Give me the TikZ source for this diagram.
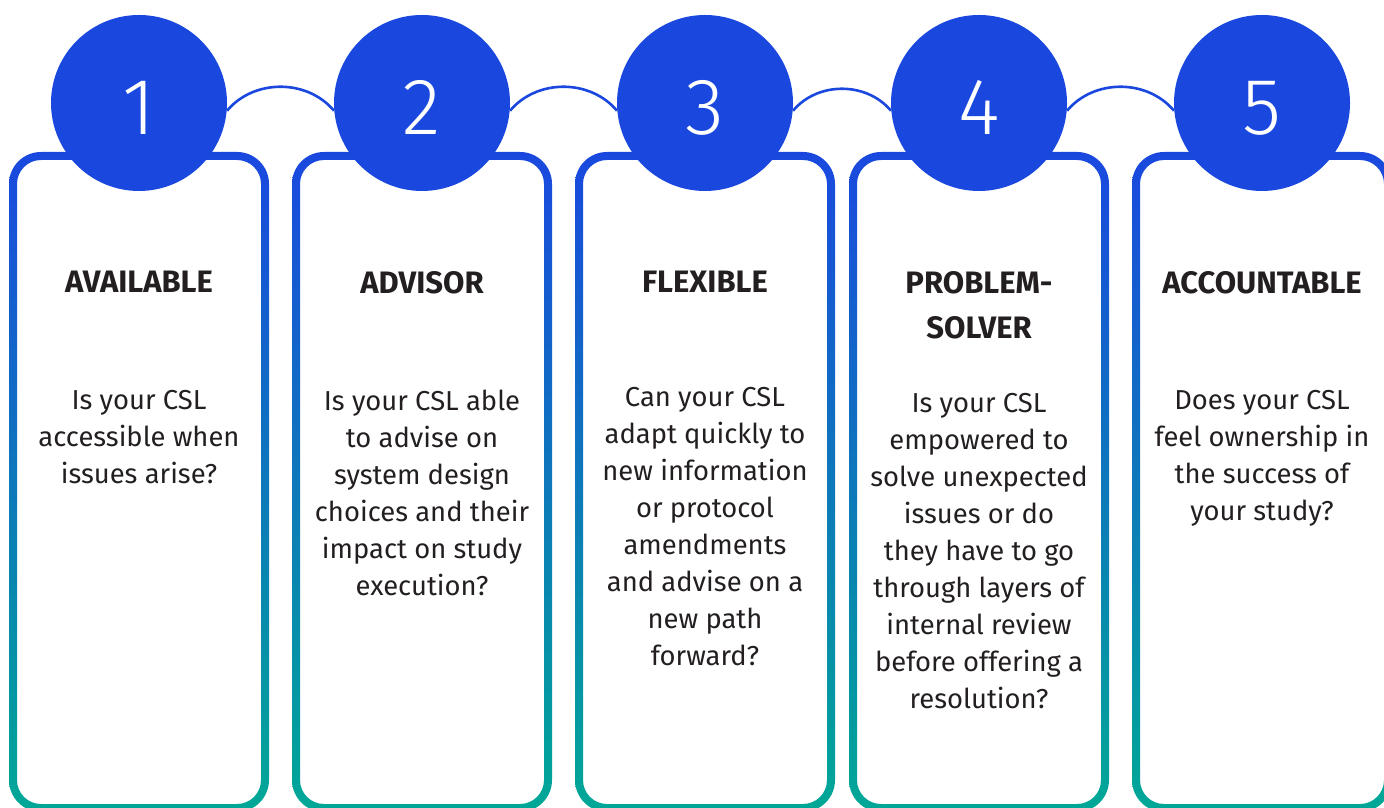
\documentclass[tikz,border=0pt]{standalone}
\usepackage{fontspec}
\setmainfont{Fira Sans}
\newfontfamily\numfont{Fira Sans Light}
\definecolor{cslblue}{HTML}{1A48DF}
\definecolor{cslteal}{HTML}{00A896}
\definecolor{csltext}{HTML}{231F20}

\begin{document}
\begin{tikzpicture}[x=0.5pt, y=0.5pt]
\tikzset{num/.style = {shape=circle, fill=cslblue, minimum size=88pt, inner sep=0pt, text=white, text height=31.6pt, text depth=0pt, font=\numfont\fontsize{40}{40}\selectfont}}
\tikzset{title/.style = {anchor=north, inner sep=0pt, align=center, text=csltext, font=\bfseries\fontsize{15.5}{22.5}\selectfont}}
\tikzset{question/.style = {anchor=north, inner sep=0pt, align=center, text=csltext, font=\fontsize{13.7}{18.5}\selectfont}}
\tikzset{link/.style = {draw=cslblue, line width=1.3pt}}
\useasboundingbox (0,0) rectangle (1384,807);
\clip (0,0) rectangle (1384,807);

% the five frames, blue at the top and teal at the bottom
\foreach \x in {13,296,579,853,1136}
  \shade[even odd rule, top color=cslblue, bottom color=cslteal]
    [rounded corners=16pt] (\x-4,-5) rectangle (\x+256,655)
    [rounded corners=12pt] (\x+4,3) rectangle (\x+248,647);

% the numbered circles
\foreach \i/\x in {1/139,2/422,3/705,4/979,5/1262}
  \node[num] (c\i) at (\x,704) {\i};

% thin arcs from circle to circle
\draw[link] (c1.-5) to[out=50, in=130] (c2.185);
\draw[link] (c2.-5) to[out=50, in=130] (c3.185);
\draw[link] (c3.-5) to[out=50, in=130] (c4.185);
\draw[link] (c4.-5) to[out=50, in=130] (c5.185);

% headings
\node[title] (t1) at (139,536) {AVAILABLE};
\node[title] (t2) at (422,536) {ADVISOR};
\node[title] (t3) at (705,536) {FLEXIBLE};
\node[title] (t4) at (979,536) {PROBLEM-\\SOLVER};
\node[title] (t5) at (1262,536) {ACCOUNTABLE};

% questions
\node[question] (q1) at (139,417) {Is your CSL\\accessible when\\issues arise?};
\node[question] (q2) at (422,417) {Is your CSL able\\to advise on\\system design\\choices and their\\impact on study\\execution?};
\node[question] (q3) at (705,420) {Can your CSL\\adapt quickly to\\new information\\or protocol\\amendments\\and advise on a\\new path\\forward?};
\node[question] (q4) at (979,414) {Is your CSL\\empowered to\\solve unexpected\\issues or do\\they have to go\\through layers of\\internal review\\before offering a\\resolution?};
\node[question] (q5) at (1262,417) {Does your CSL\\feel ownership in\\the success of\\your study?};
\end{tikzpicture}
\end{document}
